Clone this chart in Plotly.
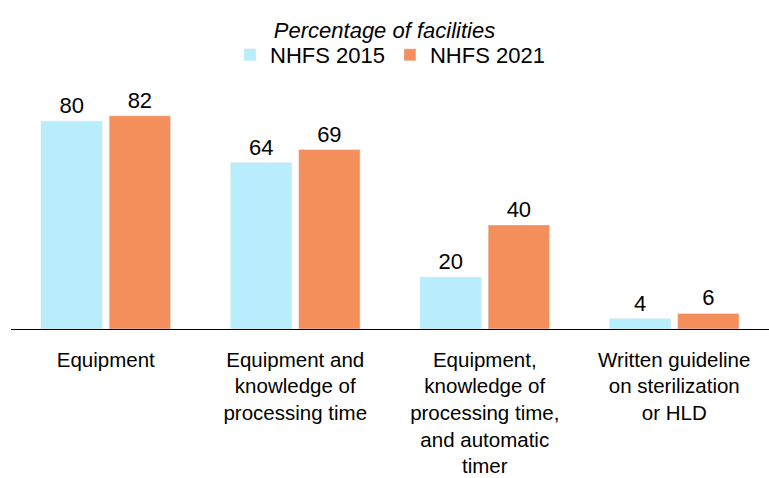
import plotly.graph_objects as go

categories = [
    "Equipment",
    "Equipment and<br>knowledge of<br>processing time",
    "Equipment,<br>knowledge of<br>processing time,<br>and automatic<br>timer",
    "Written guideline<br>on sterilization<br>or HLD",
]
nhfs_2015 = [80, 64, 20, 4]
nhfs_2021 = [82, 69, 40, 6]

FONT = "Liberation Sans, Arial, sans-serif"

fig = go.Figure()
fig.add_trace(go.Bar(
    x=categories, y=nhfs_2015, name="NHFS 2015",
    marker_color="#b8eefb",
    text=nhfs_2015, textposition="outside", cliponaxis=False,
    textfont=dict(size=22, color="#000000"),
))
fig.add_trace(go.Bar(
    x=categories, y=nhfs_2021, name="NHFS 2021",
    marker_color="#f48f5b",
    text=nhfs_2021, textposition="outside", cliponaxis=False,
    textfont=dict(size=22, color="#000000"),
))

fig.update_layout(
    width=769, height=478,
    margin=dict(l=11, r=0, t=95, b=149, autoexpand=False),
    paper_bgcolor="white", plot_bgcolor="white",
    font=dict(family=FONT, size=22, color="#000000"),
    barmode="group", bargap=0.28, bargroupgap=0.1,
    title=dict(text="<i>Percentage of facilities</i>", x=0.5, xanchor="center",
               y=1 - 30 / 478, yanchor="middle", font=dict(size=22)),
    legend=dict(orientation="h", x=0.5, xanchor="center",
                yref="container", y=1 - 55 / 478, yanchor="middle",
                font=dict(size=22), itemwidth=30, traceorder="normal"),
    xaxis=dict(showline=True, linecolor="#000000", linewidth=1, ticks="",
               tickfont=dict(size=20.5), ticklabelstandoff=12, automargin=False),
    yaxis=dict(range=[0, 90], visible=False, automargin=False),
)

# drop the default page margin so the figure sits at the window's corner
fig.write_html("out.html", config={"displayModeBar": False},
               post_script="document.body.style.margin='0';")
